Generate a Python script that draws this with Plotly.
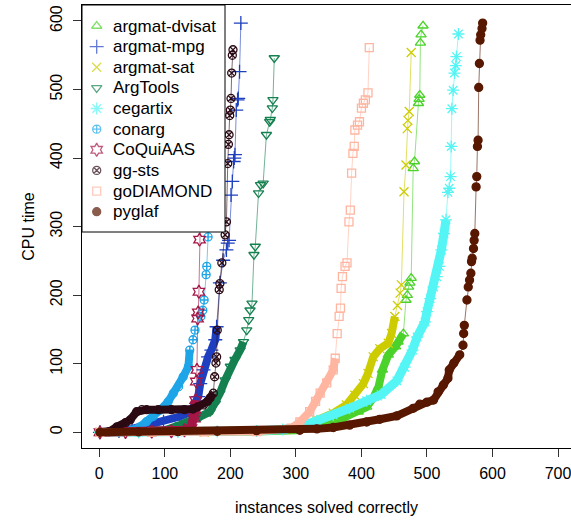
import plotly.graph_objects as go

# ---------------- data ----------------
names = ["argmat-dvisat", "argmat-mpg", "argmat-sat", "ArgTools", "cegartix",
         "conarg", "CoQuiAAS", "gg-sts", "goDIAMOND", "pyglaf"]

argmat_dvisat_x = [1, 80, 160, 240, 300, 340, 370, 395, 408, 418, 426, 432, 441, 452, 456, 464,
                   468, 470, 472, 474, 476, 479, 481, 487, 488, 489, 490, 491, 494]
argmat_dvisat_y = [0, 0, 0.3, 1, 3, 10, 20, 30, 37, 50, 66, 91, 113, 125, 132, 144,
                   193, 200, 212, 218, 225, 385, 395, 480, 486, 492, 568, 580, 593]

argmat_mpg_x = [1, 30, 50, 72, 98, 123, 140, 151, 154, 159, 166, 171, 177, 179,
                184, 189, 194, 196, 198, 201, 203, 205, 206, 207, 209, 211, 212, 214, 216]
argmat_mpg_y = [0, 2, 5, 10.6, 15.5, 23, 30, 52, 71, 91, 110, 120, 135, 154,
                218, 251, 266, 276, 280, 346, 366, 395, 400, 405, 470, 485, 487, 526, 597]

argmat_sat_x = [1, 80, 160, 240, 300, 332, 357, 377, 390, 403, 410, 418, 428, 441, 446, 451,
                455, 459, 461, 465, 468, 470, 471, 473, 476]
argmat_sat_y = [0, 0, 0.5, 1.5, 5, 18, 28, 40, 54, 71, 86, 110, 122, 130, 144, 169,
                185, 203, 215, 351, 390, 443, 455, 468, 554]

argtools_x = [1, 60, 100, 123, 138, 154, 169, 177, 184, 192, 200, 207, 215, 220,
              225, 228, 230, 233, 236, 238, 243, 246, 250, 255, 260, 261, 264, 265, 267]
argtools_y = [0, 0.5, 3, 10.6, 15.5, 23, 30, 42, 57, 76, 96, 106, 120, 132,
              149, 164, 178, 188, 259, 271, 349, 361, 363, 434, 453, 456, 473, 485, 546]

cegartix_x = [1, 60, 120, 180, 240, 280, 306, 332, 357, 382, 408, 430, 454, 466, 478, 485,
              497, 500, 505, 510, 515, 519, 522, 526, 529,
              532, 534, 536, 537, 538, 540, 542, 544, 545, 548]
cegartix_y = [0, 0, 0.5, 1, 2, 4, 8, 17, 25, 35, 46, 55, 75, 95, 120, 139,
              161, 176, 195, 212, 227, 242, 266, 290, 310,
              350, 356, 373, 417, 472, 499, 524, 535, 548, 581]

conarg_x = [1, 30, 50, 62, 72, 82, 93, 105, 113, 121, 128, 136, 138,
            143, 146, 155, 158, 160, 163, 164, 166, 170]
conarg_y = [0, 1, 3, 8, 15.5, 23, 32.5, 44.6, 57, 66.5, 81, 96, 120,
            135, 149, 169, 178, 193, 230, 242, 285, 350]

coquiaas_x = [1, 40, 80, 110, 130, 140, 145, 146, 147,
              148, 149, 150, 151, 152, 153, 155]
coquiaas_y = [0, 0.5, 1, 1.5, 3, 6, 20, 33, 47,
              74, 91, 166, 175, 205, 281, 350]

gg_sts_x = [1, 15, 27, 40, 47, 57, 65, 72, 90, 110, 130, 143, 150, 159, 165, 169, 174,
            176, 178, 179, 180, 183, 184, 187, 192, 194, 196, 197, 198, 199, 200, 201, 202, 203, 204]
gg_sts_y = [0, 1, 8, 14, 18, 30, 33, 33, 33, 33, 33, 34, 37, 40, 45, 50, 57,
            81, 101, 110, 149, 208, 217, 247, 288, 307, 392, 420, 434, 462, 470, 487, 524, 550, 558]

godiamond_x = [1, 80, 160, 240, 293, 306, 321, 330, 337, 347, 357, 360,
               363, 366, 368, 369, 371, 375, 378, 381, 383, 385, 387, 389, 390, 394, 397,
               400, 403, 406, 410, 412]
godiamond_y = [0, 0, 0.5, 1, 6, 15, 30, 45, 57, 72, 91, 108,
               144, 169, 181, 210, 227, 242, 247, 307, 324, 378, 407, 417, 441, 448, 453,
               473, 480, 485, 495, 561]

pyglaf_x = [1, 60, 120, 180, 240, 306, 332, 357, 382, 408, 428, 454, 479, 489, 500, 510,
            517, 525, 532, 534, 541, 550,
            555, 556, 557, 561, 563, 565, 567, 568, 569, 571, 572, 573, 575, 576, 577, 578,
            579, 580, 581, 582, 584, 585]
pyglaf_y = [0, 0.5, 1, 1.5, 2.5, 3, 5, 7, 10.5, 15, 19, 24, 35, 41, 44, 47,
            59, 69, 79, 91, 101, 113,
            127, 144, 156, 193, 212, 222, 232, 249, 254, 268, 280, 290, 358, 373, 417, 426,
            503, 538, 572, 580, 589, 597]

x_ticks = [0, 100, 200, 300, 400, 500, 600, 700]
y_ticks = [0, 100, 200, 300, 400, 500, 600]

series_x = [argmat_dvisat_x, argmat_mpg_x, argmat_sat_x, argtools_x, cegartix_x,
            conarg_x, coquiaas_x, gg_sts_x, godiamond_x, pyglaf_x]
series_y = [argmat_dvisat_y, argmat_mpg_y, argmat_sat_y, argtools_y, cegartix_y,
            conarg_y, coquiaas_y, gg_sts_y, godiamond_y, pyglaf_y]

# ---------------- styles ----------------
colors = ["#4BD22B", "#1E40C0", "#CCCC00", "#158050", "#55F5F5",
          "#1EA5E8", "#A51646", "#2B0A14", "#FFB5A0", "#581800"]
symbols = ["triangle-up-open", "cross-thin-open", "x-thin-open", "triangle-down-open",
           "asterisk-open", "circle-cross-open", "hexagram-open", "circle-x-open",
           "square-open", "circle"]
msizes = [9, 10, 9, 9, 10, 8, 10, 8, 8, 8]
# number of leading points whose markers overlap into a solid band
dense_counts = [16, 14, 16, 14, 25, 13, 9, 17, 12, 22]
band_widths = [8, 8, 8, 8, 9, 8, 9, 8, 8, 8]


def rgba(hexcol, a):
    h = hexcol.lstrip("#")
    return "rgba(%d,%d,%d,%.2f)" % (int(h[0:2], 16), int(h[2:4], 16), int(h[4:6], 16), a)


FONT = "Liberation Sans, Arial, Helvetica, sans-serif"

fig = go.Figure()
for i, name in enumerate(names):
    xs, ys = series_x[i], series_y[i]
    k = dense_counts[i]
    fig.add_trace(go.Scatter(
        x=xs[:k], y=ys[:k], mode="lines",
        line=dict(color=colors[i], width=band_widths[i]),
        hoverinfo="skip", showlegend=False))
    fig.add_trace(go.Scatter(
        x=xs, y=ys, mode="lines+markers", name=name,
        line=dict(color=rgba(colors[i], 0.6), width=1),
        marker=dict(symbol=symbols[i], size=msizes[i], color=colors[i],
                    line=dict(color=colors[i], width=1.3)),
        showlegend=False))

# ---------------- legend (drawn on a pixel-unit overlay axis) ----------------
LX0, LX1, LY0, LY1 = 82, 225, 5, 232
row0, rowstep = 26, 20.63
sym_x, txt_x = 96.7, 111
rows = [row0 + rowstep * i for i in range(len(names))]

fig.add_trace(go.Scatter(
    x=[LX0, LX1, LX1, LX0, LX0], y=[LY0, LY0, LY1, LY1, LY0],
    xaxis="x2", yaxis="y2", mode="lines", fill="toself", fillcolor="white",
    line=dict(color="black", width=1), hoverinfo="skip", showlegend=False))
fig.add_trace(go.Scatter(
    x=[sym_x] * len(names), y=rows, xaxis="x2", yaxis="y2", mode="markers",
    marker=dict(symbol=symbols, size=msizes, color=colors,
                line=dict(color=colors, width=1.3)),
    hoverinfo="skip", showlegend=False))
for i, name in enumerate(names):
    fig.add_annotation(x=txt_x, y=rows[i], xref="x2", yref="y2", text=name,
                       showarrow=False, xanchor="left", yanchor="middle",
                       font=dict(family=FONT, size=17, color="black"))

fig.update_layout(
    width=571, height=520,
    margin=dict(l=82, r=0, t=5, b=72, autoexpand=False),
    paper_bgcolor="white", plot_bgcolor="white",
    font=dict(family=FONT, size=16, color="black"),
    xaxis=dict(range=[-26.4, 719.8], tickvals=x_ticks, ticktext=[str(v) for v in x_ticks],
               ticks="outside", ticklen=8, tickcolor="#333", tickwidth=1,
               ticklabelstandoff=3, ticklabeloverflow="allow",
               showline=True, linecolor="black", linewidth=1, mirror=True,
               showgrid=False, zeroline=False, automargin=False,
               title=dict(text="instances solved correctly", standoff=20,
                          font=dict(family=FONT, size=16))),
    yaxis=dict(range=[-22.9, 623.3], tickvals=y_ticks, ticktext=[str(v) for v in y_ticks],
               tickangle=-90, ticks="outside", ticklen=8, tickcolor="#333", tickwidth=1,
               ticklabelstandoff=5, ticklabeloverflow="allow",
               showline=True, linecolor="black", linewidth=1, mirror=False,
               showgrid=False, zeroline=False, automargin=False,
               title=dict(text="CPU time", standoff=8, font=dict(family=FONT, size=16))),
    xaxis2=dict(overlaying="x", range=[82, 571], visible=False, showgrid=False,
                zeroline=False, automargin=False),
    yaxis2=dict(overlaying="y", range=[448, 5], visible=False, showgrid=False,
                zeroline=False, automargin=False),
    hovermode=False,
)

fig.write_html("out.html", config={"displayModeBar": False},
               post_script="document.body.style.margin='0';document.body.style.padding='0';")
